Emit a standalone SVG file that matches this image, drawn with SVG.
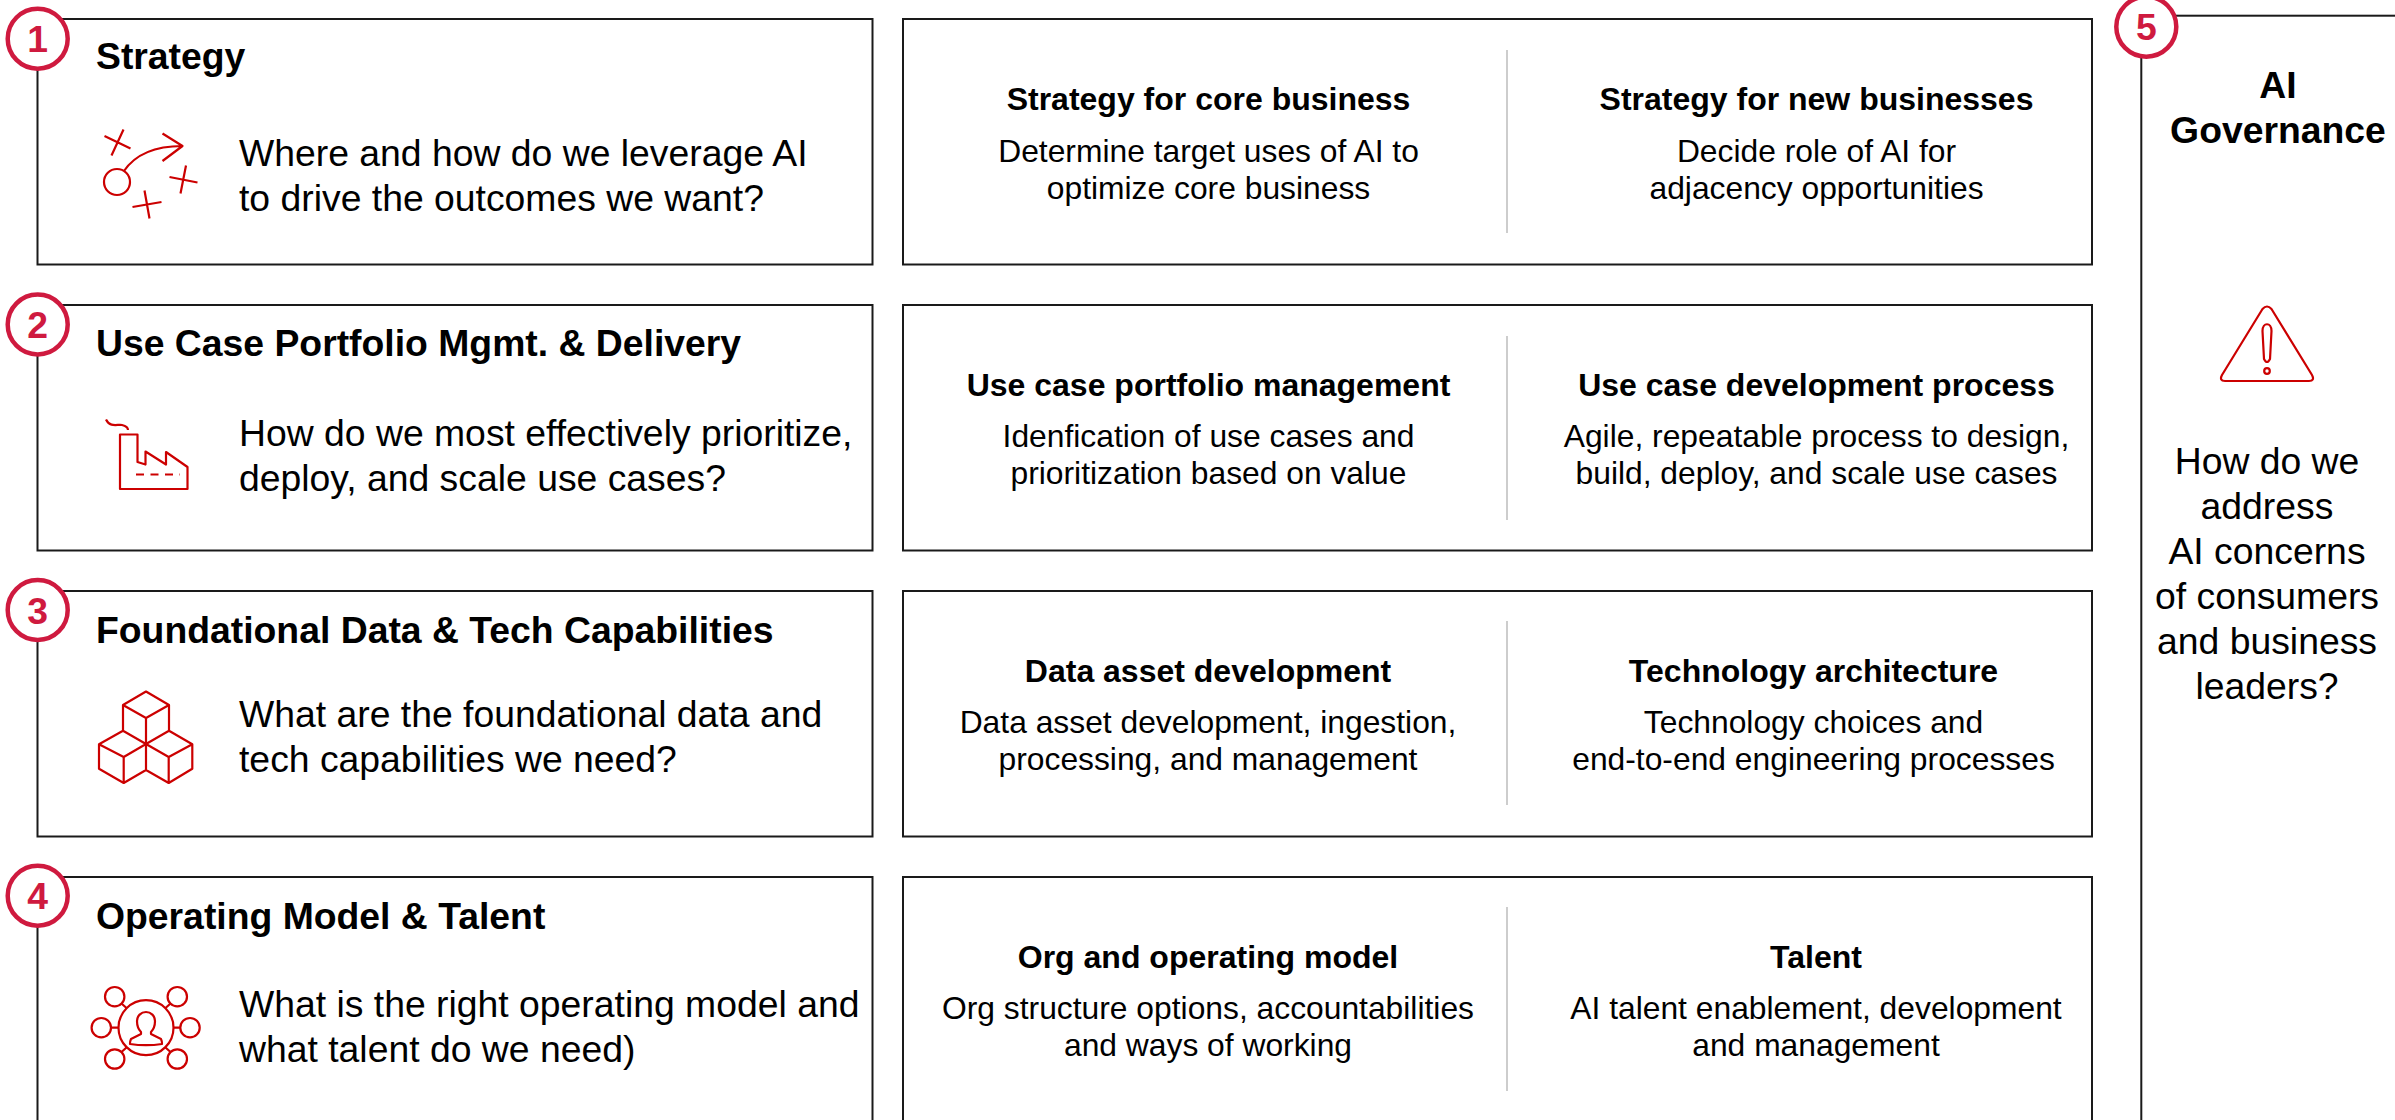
<svg xmlns="http://www.w3.org/2000/svg" width="2395" height="1120" viewBox="0 0 2395 1120">
<style>
text{font-family:"Liberation Sans",Arial,sans-serif;fill:#000}
.box{fill:#fff;stroke:#1a1a1a;stroke-width:2}
.t{font-size:37.33px;font-weight:700}
.q{font-size:37.33px}
.h{font-size:32px;font-weight:700;text-anchor:middle}
.b{font-size:31.8px;text-anchor:middle}
.div{stroke:#bdbdbd;stroke-width:1.5}
.badge{fill:#fff;stroke:#cf1a3f;stroke-width:4.5}
.n{font-size:37.33px;font-weight:700;fill:#cf1a3f;text-anchor:middle}
.ic{fill:none;stroke:#cc0000;stroke-width:2.2;stroke-linejoin:round}
</style>
<rect width="2395" height="1120" fill="#fff"/>
<g id="node-1">
<rect class="box" x="37.5" y="19" width="835" height="245.5"/>
<circle class="badge" cx="37.7" cy="38.7" r="30"/><text class="n" x="37.7" y="52">1</text>
<text class="t" x="96" y="69">Strategy</text>
<g class="ic"><path d="M104.500 136L130.500 148.500M123.500 129.500L111.500 155.500M169.500 177L197.500 182.500M186 165.500L180.500 193.500M132.500 207L161.500 202M144.500 190.500L149.500 218.500M124 171Q141 146 182.500 146M162.500 133.500L182.500 146L162.500 161"/><circle cx="117" cy="182" r="13"/></g>
<text class="q" x="239" y="166">Where and how do we leverage AI</text>
<text class="q" x="239" y="211">to drive the outcomes we want?</text>
</g>
<g id="node-1b">
<rect class="box" x="903" y="19" width="1189" height="245.5"/>
<line class="div" x1="1507" y1="50" x2="1507" y2="233"/>
<text class="h" x="1208.500" y="110">Strategy for core business</text>
<text class="b" x="1208.500" y="162">Determine target uses of AI to</text>
<text class="b" x="1208.500" y="199">optimize core business</text>
<text class="h" x="1816.500" y="110">Strategy for new businesses</text>
<text class="b" x="1816.500" y="162">Decide role of AI for</text>
<text class="b" x="1816.500" y="199">adjacency opportunities</text>
</g>
<g id="node-2">
<rect class="box" x="37.500" y="305" width="835" height="245.500"/>
<circle class="badge" cx="37.7" cy="324.500" r="30"/><text class="n" x="37.7" y="338">2</text>
<text class="t" x="96" y="356">Use Case Portfolio Mgmt. &amp; Delivery</text>
<g class="ic"><path d="M120 489V434.500H137.500V462L145.500 464.500V451.500L166 464.500V452L187.500 467V489Z"/><path d="M136 474.500H180" stroke-dasharray="8 6.500"/><path d="M106 419.500C110 428 118 424 122 425C126 426 128 428 128 430"/></g>
<text class="q" x="239" y="446">How do we most effectively prioritize,</text>
<text class="q" x="239" y="491">deploy, and scale use cases?</text>
</g>
<g id="node-2b">
<rect class="box" x="903" y="305" width="1189" height="245.500"/>
<line class="div" x1="1507" y1="336" x2="1507" y2="520"/>
<text class="h" x="1208.500" y="396">Use case portfolio management</text>
<text class="b" x="1208.500" y="447">Idenfication of use cases and</text>
<text class="b" x="1208.500" y="484">prioritization based on value</text>
<text class="h" x="1816.500" y="396">Use case development process</text>
<text class="b" x="1816.500" y="447">Agile, repeatable process to design,</text>
<text class="b" x="1816.500" y="484">build, deploy, and scale use cases</text>
</g>
<g id="node-3">
<rect class="box" x="37.500" y="591" width="835" height="245.500"/>
<circle class="badge" cx="37.7" cy="610" r="30"/><text class="n" x="37.7" y="623.500">3</text>
<text class="t" x="96" y="643">Foundational Data &amp; Tech Capabilities</text>
<g class="ic"><path d="M146 691.500L169 705V730.700L146 744L123 730.700V705ZM123 705L146 718L169 705M146 718V770M123 730.700L99 744.300V768.700L123.700 783L146 770L168.700 783L192.300 768.700V744.300L169 730.700M99 744.300L123.700 757L146 744L168.700 757L192.300 744.300M123.700 757V783M168.700 757V783"/></g>
<text class="q" x="239" y="727">What are the foundational data and</text>
<text class="q" x="239" y="772">tech capabilities we need?</text>
</g>
<g id="node-3b">
<rect class="box" x="903" y="591" width="1189" height="245.500"/>
<line class="div" x1="1507" y1="621" x2="1507" y2="805"/>
<text class="h" x="1208" y="682">Data asset development</text>
<text class="b" x="1208" y="733">Data asset development, ingestion,</text>
<text class="b" x="1208" y="770">processing, and management</text>
<text class="h" x="1813.500" y="682">Technology architecture</text>
<text class="b" x="1813.500" y="733">Technology choices and</text>
<text class="b" x="1813.500" y="770">end-to-end engineering processes</text>
</g>
<g id="node-4">
<rect class="box" x="37.500" y="877" width="835" height="260"/>
<circle class="badge" cx="37.7" cy="895.700" r="30"/><text class="n" x="37.7" y="909">4</text>
<text class="t" x="96" y="929">Operating Model &amp; Talent</text>
<g class="ic"><circle cx="146" cy="1027.700" r="27.500"/><circle cx="114.700" cy="996.700" r="9.700"/><circle cx="177.300" cy="996.700" r="9.700"/><circle cx="101.300" cy="1027.700" r="9.700"/><circle cx="190" cy="1027.700" r="9.700"/><circle cx="114.700" cy="1059" r="9.700"/><circle cx="177.300" cy="1059" r="9.700"/><path d="M121.500 1003.500L126.500 1008M170.500 1003.500L165.500 1008M111 1027.700H118.500M173.500 1027.700H180.300M121.500 1052L126.500 1047.500M170.500 1052L165.500 1047.500M146 1012C141 1012 137 1016 137 1021C137 1026 139 1030 141 1032V1034L131 1039C130 1041 130 1043 130 1044C140 1045.500 152 1045.500 162 1044C162 1043 162 1041 161 1039L151 1034V1032C153 1030 155 1026 155 1021C155 1016 151 1012 146 1012Z"/></g>
<text class="q" x="239" y="1017">What is the right operating model and</text>
<text class="q" x="239" y="1062">what talent do we need)</text>
</g>
<g id="node-4b">
<rect class="box" x="903" y="877" width="1189" height="260"/>
<line class="div" x1="1507" y1="907" x2="1507" y2="1091"/>
<text class="h" x="1208" y="968">Org and operating model</text>
<text class="b" x="1208" y="1019">Org structure options, accountabilities</text>
<text class="b" x="1208" y="1056">and ways of working</text>
<text class="h" x="1816" y="968">Talent</text>
<text class="b" x="1816" y="1019">AI talent enablement, development</text>
<text class="b" x="1816" y="1056">and management</text>
</g>
<g id="node-5">
<rect class="box" x="2141.300" y="15.700" width="270" height="1120"/>
<circle class="badge" cx="2146.300" cy="26.700" r="30"/><text class="n" x="2146.300" y="40">5</text>
<text class="t" x="2278" y="98" style="text-anchor:middle">AI</text>
<text class="t" x="2278" y="143" style="text-anchor:middle">Governance</text>
<g class="ic"><path d="M2262.500 309Q2267 304 2271.500 309L2312 375Q2315 381 2309 381H2225Q2219 381 2222 375Z"/><path d="M2262.500 331C2262.500 322 2271.500 322 2271.500 331L2270 359Q2267 365 2264 359Z"/><circle cx="2267" cy="371" r="2.800"/></g>
<text class="q" x="2267" y="474" style="text-anchor:middle">How do we</text>
<text class="q" x="2267" y="519" style="text-anchor:middle">address</text>
<text class="q" x="2267" y="564" style="text-anchor:middle">AI concerns</text>
<text class="q" x="2267" y="609" style="text-anchor:middle">of consumers</text>
<text class="q" x="2267" y="654" style="text-anchor:middle">and business</text>
<text class="q" x="2267" y="699" style="text-anchor:middle">leaders?</text>
</g>
</svg>
